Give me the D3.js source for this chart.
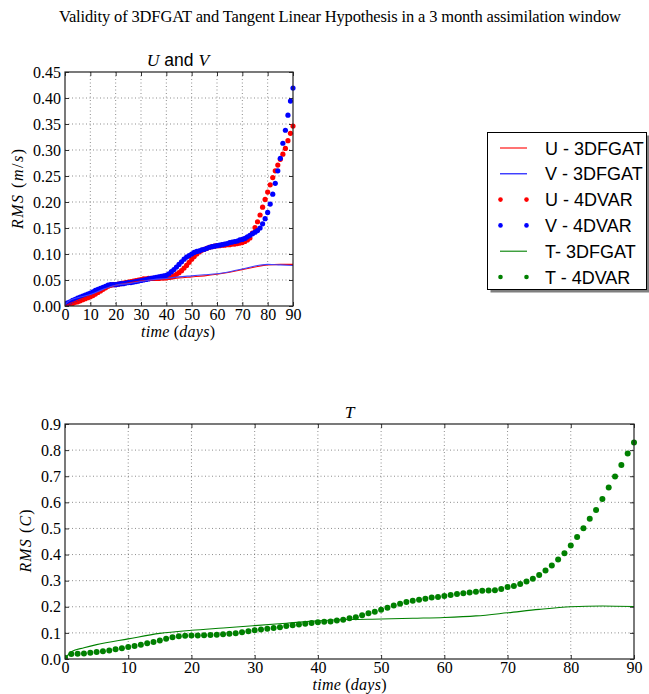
<!DOCTYPE html>
<html>
<head>
<meta charset="utf-8">
<script src="https://cdn.jsdelivr.net/npm/d3@7"></script>
<style>
  html, body { margin: 0; padding: 0; background: #fff; }
  svg { display: block; }
  .tick text { font-family: "Liberation Serif", "DejaVu Serif", serif; font-size: 16px; fill: #000; }
</style>
</head>
<body>
<svg id="chart" width="649" height="694"></svg>
<script>
// ---- data -------------------------------------------------------------
const days = d3.range(0, 91);                    // one sample per day, 0..90
const lineDays = [0, 2, 5, 10, 15, 20, 25, 30, 35, 40, 45, 50, 55, 60, 65, 70, 75, 80, 85, 90];
const tLineDays = [0, 1, 3, 5, 10, 15, 20, 25, 30, 35, 40, 45, 50, 55, 60, 65, 70, 75, 80, 85, 90];

// RMS of wind components, 4DVAR (daily)
const u4dvar = [
  0.002, 0.003, 0.004, 0.005, 0.007, 0.008, 0.010, 0.012, 0.014, 0.016,
  0.018, 0.020, 0.023, 0.026, 0.029, 0.032, 0.035, 0.038, 0.040, 0.041,
  0.041, 0.042, 0.043, 0.044, 0.045, 0.046, 0.047, 0.048, 0.049, 0.050,
  0.051, 0.052, 0.052, 0.053, 0.053, 0.053, 0.053, 0.053, 0.054, 0.054,
  0.054, 0.055, 0.056, 0.058, 0.061, 0.064, 0.068, 0.073, 0.078, 0.084,
  0.090, 0.095, 0.100, 0.104, 0.107, 0.109, 0.111, 0.113, 0.114, 0.115,
  0.116, 0.116, 0.117, 0.117, 0.118, 0.118, 0.119, 0.119, 0.120, 0.121,
  0.122, 0.124, 0.127, 0.131, 0.140, 0.151, 0.162, 0.175, 0.190, 0.205,
  0.219, 0.233, 0.247, 0.260, 0.271, 0.282, 0.292, 0.303, 0.318, 0.332,
  0.346
];
const v4dvar = [
  0.004, 0.006, 0.008, 0.011, 0.013, 0.015, 0.017, 0.019, 0.021, 0.023,
  0.025, 0.027, 0.030, 0.032, 0.034, 0.036, 0.038, 0.040, 0.041, 0.041,
  0.041, 0.042, 0.043, 0.043, 0.044, 0.045, 0.045, 0.046, 0.047, 0.048,
  0.049, 0.050, 0.051, 0.052, 0.053, 0.054, 0.055, 0.056, 0.057, 0.058,
  0.059, 0.062, 0.066, 0.070, 0.075, 0.080, 0.085, 0.090, 0.094, 0.097,
  0.100, 0.103, 0.105, 0.106, 0.108, 0.109, 0.111, 0.113, 0.114, 0.115,
  0.116, 0.117, 0.118, 0.119, 0.120, 0.122, 0.123, 0.124, 0.125, 0.127,
  0.128, 0.130, 0.133, 0.136, 0.139, 0.142, 0.145, 0.150, 0.158, 0.168,
  0.180, 0.196, 0.215, 0.236, 0.260, 0.284, 0.313, 0.338, 0.367, 0.394,
  0.419
];
// RMS of wind components, 3DFGAT
const u3dfgat = [0.000, 0.005, 0.011, 0.020, 0.031, 0.040, 0.044, 0.048, 0.050, 0.051,
                 0.054, 0.056, 0.058, 0.061, 0.065, 0.070, 0.075, 0.079, 0.080, 0.080];
const v3dfgat = [0.003, 0.011, 0.016, 0.022, 0.032, 0.040, 0.043, 0.047, 0.051, 0.053,
                 0.056, 0.058, 0.060, 0.062, 0.066, 0.071, 0.077, 0.080, 0.079, 0.078];

// RMS of temperature, 4DVAR (daily)
const t4dvar = [
  0.005, 0.019, 0.020, 0.021, 0.024, 0.027, 0.030, 0.033, 0.037, 0.041,
  0.046, 0.050, 0.055, 0.060, 0.065, 0.071, 0.078, 0.083, 0.087, 0.089,
  0.090, 0.090, 0.091, 0.092, 0.093, 0.095, 0.097, 0.099, 0.102, 0.106,
  0.110, 0.113, 0.116, 0.119, 0.122, 0.126, 0.129, 0.132, 0.135, 0.138,
  0.141, 0.143, 0.144, 0.147, 0.150, 0.156, 0.160, 0.168, 0.175, 0.181,
  0.189, 0.196, 0.205, 0.212, 0.218, 0.223, 0.227, 0.231, 0.236, 0.237,
  0.241, 0.245, 0.249, 0.252, 0.255, 0.258, 0.261, 0.262, 0.263, 0.268,
  0.276, 0.280, 0.287, 0.297, 0.307, 0.322, 0.339, 0.358, 0.381, 0.405,
  0.435, 0.467, 0.501, 0.537, 0.571, 0.613, 0.657, 0.699, 0.743, 0.787,
  0.829
];
// RMS of temperature, 3DFGAT
const t3dfgat = [0.000, 0.028, 0.043, 0.055, 0.077, 0.098, 0.110, 0.119, 0.128, 0.137,
                 0.146, 0.151, 0.153, 0.156, 0.159, 0.165, 0.177, 0.190, 0.200, 0.203, 0.201];

const xTicks = [0, 10, 20, 30, 40, 50, 60, 70, 80, 90];
const uvTicks = [0, 0.05, 0.10, 0.15, 0.20, 0.25, 0.30, 0.35, 0.40, 0.45];
const tTicks = [0, 0.1, 0.2, 0.3, 0.4, 0.5, 0.6, 0.7, 0.8, 0.9];

const legendItems = [
  { label: "U - 3DFGAT", color: "#ff0000", kind: "line" },
  { label: "V - 3DFGAT", color: "#0000ff", kind: "line" },
  { label: "U - 4DVAR",  color: "#ff0000", kind: "dots" },
  { label: "V - 4DVAR",  color: "#0000ff", kind: "dots" },
  { label: "T- 3DFGAT",  color: "#008000", kind: "line" },
  { label: "T - 4DVAR",  color: "#008000", kind: "dots" }
];

// ---- drawing ----------------------------------------------------------
const svg = d3.select("#chart");
const SERIF = '"Liberation Serif", "DejaVu Serif", serif';
const SANS = '"Liberation Sans", Arial, sans-serif';

svg.append("text")
  .attr("x", 340).attr("y", 22)
  .attr("text-anchor", "middle")
  .attr("textLength", 562).attr("lengthAdjust", "spacing")
  .style("font-family", SERIF).style("font-size", "16.5px")
  .text("Validity of 3DFGAT and Tangent Linear Hypothesis in a 3 month assimilation window");

function panel(box, yDomain, yTicks, yFmt, markerR) {
  const x = d3.scaleLinear().domain([0, 90]).range([box.left, box.right]);
  const y = d3.scaleLinear().domain(yDomain).range([box.bottom, box.top]);
  const g = svg.append("g");

  // dotted grid
  const grid = g.append("g").attr("stroke", "#000").attr("stroke-width", 0.6)
    .attr("stroke-dasharray", "1,2.5").attr("opacity", 0.75);
  grid.selectAll("line.gx").data(xTicks.slice(1, -1)).join("line")
    .attr("x1", d => x(d)).attr("x2", d => x(d))
    .attr("y1", box.top).attr("y2", box.bottom);
  grid.selectAll("line.gy").data(yTicks.slice(1, -1)).join("line")
    .attr("x1", box.left).attr("x2", box.right)
    .attr("y1", d => y(d)).attr("y2", d => y(d));

  // axes with inward ticks on all four sides
  const tl = 4;
  g.append("g").attr("transform", `translate(0,${box.bottom})`)
    .call(d3.axisBottom(x).tickValues(xTicks).tickSize(-tl).tickPadding(2.8).tickFormat(d3.format("d")))
    .call(a => a.select(".domain").remove());
  g.append("g").attr("transform", `translate(0,${box.top})`)
    .call(d3.axisTop(x).tickValues(xTicks).tickSize(-tl).tickFormat(""))
    .call(a => a.select(".domain").remove());
  g.append("g").attr("transform", `translate(${box.left},0)`)
    .call(d3.axisLeft(y).tickValues(yTicks).tickSize(-tl).tickPadding(4).tickFormat(yFmt))
    .call(a => a.select(".domain").remove());
  g.append("g").attr("transform", `translate(${box.right},0)`)
    .call(d3.axisRight(y).tickValues(yTicks).tickSize(-tl).tickFormat(""))
    .call(a => a.select(".domain").remove());
  g.selectAll(".tick line").attr("stroke", "#000").attr("stroke-width", 0.8);

  const clipId = "clip" + box.top;
  svg.append("clipPath").attr("id", clipId).append("rect")
    .attr("x", box.left).attr("y", box.top - markerR - 1)
    .attr("width", box.right - box.left + markerR + 1).attr("height", box.bottom - box.top + markerR + 1);
  const plot = g.append("g").attr("clip-path", `url(#${clipId})`);

  g.append("rect")
    .attr("x", box.left).attr("y", box.top)
    .attr("width", box.right - box.left).attr("height", box.bottom - box.top)
    .attr("fill", "none").attr("stroke", "#222").attr("stroke-width", 1.2);

  return { x, y, plot };
}

function drawLine(p, xs, ys, color) {
  const line = d3.line().x((d, i) => p.x(xs[i])).y(d => p.y(d)).curve(d3.curveMonotoneX);
  p.plot.append("path").datum(ys).attr("d", line)
    .attr("fill", "none").attr("stroke", color).attr("stroke-width", 1.1);
}
function drawDots(p, xs, ys, color, r) {
  p.plot.append("g").selectAll("circle").data(ys).join("circle")
    .attr("cx", (d, i) => p.x(xs[i])).attr("cy", d => p.y(d)).attr("r", r)
    .attr("fill", color);
}

// --- U and V panel
const uvPanel = panel({ left: 65, right: 293, top: 72, bottom: 306 }, [0, 0.45], uvTicks, d3.format(".2f"), 2.6);
drawDots(uvPanel, days, u4dvar, "#ff0000", 2.6);
drawDots(uvPanel, days, v4dvar, "#0000ff", 2.6);
drawLine(uvPanel, lineDays, u3dfgat, "#ff0000");
drawLine(uvPanel, lineDays, v3dfgat, "#4040ff");

const t1 = svg.append("text").attr("x", 178).attr("y", 66).attr("text-anchor", "middle")
  .style("font-size", "17.5px");
t1.append("tspan").style("font-family", SERIF).style("font-style", "italic").text("U");
t1.append("tspan").style("font-family", SANS).text(" and ");
t1.append("tspan").style("font-family", SERIF).style("font-style", "italic").text("V");

function yLabel(x, yc, len, unit) {
  const t = svg.append("text").attr("transform", `translate(${x},${yc}) rotate(-90)`)
    .attr("text-anchor", "middle").attr("textLength", len).attr("lengthAdjust", "spacing")
    .style("font-family", SERIF).style("font-size", "16px");
  t.append("tspan").style("font-style", "italic").text("RMS");
  t.append("tspan").text(" (");
  unit(t);
  t.append("tspan").text(")");
}
yLabel(23, 189, 80, t => {
  t.append("tspan").style("font-style", "italic").text("m");
  t.append("tspan").text("/");
  t.append("tspan").style("font-style", "italic").text("s");
});
function xLabel(xc, y) {
  const t = svg.append("text").attr("x", xc).attr("y", y).attr("text-anchor", "middle")
    .attr("textLength", 74).attr("lengthAdjust", "spacing")
    .style("font-family", SERIF).style("font-size", "16px");
  t.append("tspan").style("font-style", "italic").text("time");
  t.append("tspan").text(" (");
  t.append("tspan").style("font-style", "italic").text("days");
  t.append("tspan").text(")");
}
xLabel(178, 337);

// --- T panel
const tPanel = panel({ left: 65, right: 634, top: 424, bottom: 659 }, [0, 0.9], tTicks, d3.format(".1f"), 3);
drawLine(tPanel, tLineDays, t3dfgat, "#008000");
drawDots(tPanel, days, t4dvar, "#008000", 3);

svg.append("text").attr("x", 349.5).attr("y", 418).attr("text-anchor", "middle")
  .style("font-family", SERIF).style("font-style", "italic").style("font-size", "17.5px").text("T");
yLabel(31, 541, 63, t => t.append("tspan").style("font-style", "italic").text("C"));
xLabel(349.5, 690);

// --- legend
const lg = svg.append("g");
const L = { x: 487.5, y: 132.5, w: 159, h: 157 };
lg.append("rect").attr("x", L.x + 3).attr("y", L.y + 3).attr("width", L.w).attr("height", L.h)
  .attr("fill", "#7f7f7f");
lg.append("rect").attr("x", L.x).attr("y", L.y).attr("width", L.w).attr("height", L.h)
  .attr("fill", "#fff").attr("stroke", "#000").attr("stroke-width", 1);
const rowY = d3.scaleLinear().domain([0, 5]).range([148, 277]);
legendItems.forEach((it, i) => {
  const yy = rowY(i);
  if (it.kind === "line") {
    lg.append("line").attr("x1", 500).attr("x2", 527).attr("y1", yy).attr("y2", yy)
      .attr("stroke", it.color).attr("stroke-width", 1.1);
  } else {
    [500.5, 526.5].forEach(cx => lg.append("circle").attr("cx", cx).attr("cy", yy).attr("r", 2.3).attr("fill", it.color));
  }
  lg.append("text").attr("x", 545).attr("y", yy + 6.5)
    .style("font-family", SANS).style("font-size", "18px").text(it.label);
});
</script>
</body>
</html>
